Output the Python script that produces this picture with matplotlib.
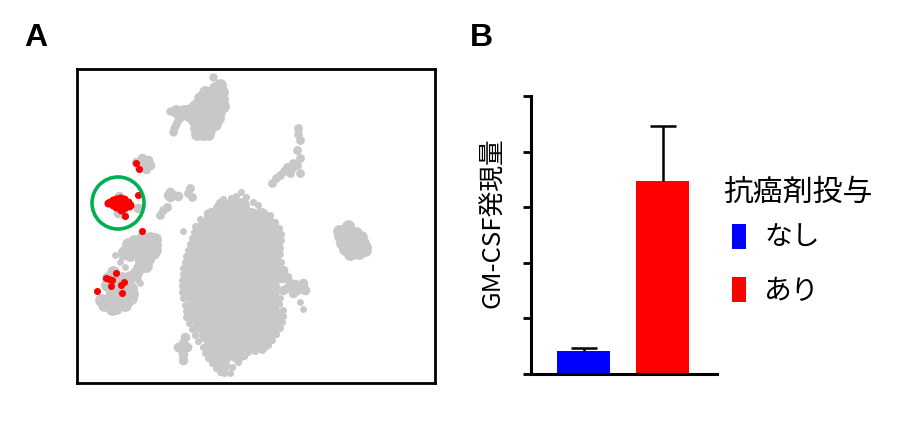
import matplotlib
matplotlib.use('Agg')
import matplotlib.pyplot as plt
from matplotlib.patches import Circle, Rectangle

plt.rcParams['font.family'] = ['Noto Sans CJK JP', 'DejaVu Sans']

GRAY = '#c8c8c8'

# panel A: point map in pixel units
main_row_y = [205, 215, 225, 235, 245, 255, 265, 275, 285, 295, 305, 315, 325, 335, 345, 355, 365]
main_row_x = [
    [222, 232, 242],
    [211, 221, 231, 241, 251, 261],
    [205, 215, 225, 235, 245, 255, 265, 271],
    [201, 211, 221, 231, 241, 251, 261, 271, 274],
    [197, 207, 217, 227, 237, 247, 257, 267, 275],
    [194, 204, 214, 224, 234, 244, 254, 264, 274],
    [192, 202, 212, 222, 232, 242, 252, 262, 272],
    [190, 200, 210, 220, 230, 240, 250, 260, 270],
    [190, 200, 210, 220, 230, 240, 250, 260, 270],
    [191, 201, 211, 221, 231, 241, 251, 261, 271],
    [192, 202, 212, 222, 232, 242, 252, 262, 272],
    [195, 205, 215, 225, 235, 245, 255, 265, 275],
    [200, 210, 220, 230, 240, 250, 260, 270, 275],
    [206, 216, 226, 236, 246, 256, 268],
    [211, 221, 231, 241, 251, 261],
    [215, 225, 237],
    [222],
]
edge_x = [241, 223, 231, 236, 246, 253, 258, 207, 216, 200, 196, 194, 192, 190, 188, 186, 185,
          183, 183, 182, 182, 182, 183, 185, 186, 186, 189, 192, 195, 198, 203, 205, 208, 212,
          216, 220, 224, 230, 262, 270, 275, 279, 281, 281, 280, 280, 281, 279, 277, 277, 276,
          276, 277, 279, 283, 283, 282, 280, 276, 272, 268, 262, 255, 248, 244, 238, 232]
edge_y = [192, 199, 198, 196, 197, 202, 205, 213, 207, 219, 226, 232, 238, 244, 250, 256, 262,
          268, 274, 280, 286, 292, 298, 305, 311, 317, 323, 329, 335, 341, 347, 353, 358, 363,
          368, 372, 373, 373, 212, 215, 222, 228, 234, 240, 248, 254, 262, 268, 274, 280, 286,
          292, 298, 304, 310, 316, 322, 328, 334, 340, 345, 350, 351, 352, 356, 362, 367]

top_x = [220, 215, 222, 205, 213, 222, 200, 208, 216, 223, 195, 203, 211, 219, 190, 196, 204,
         212, 184, 176, 180, 197, 190, 194, 200, 207, 213, 196, 203, 210, 197, 203, 208, 218, 215]
top_y = [85, 88, 92, 92, 95, 99, 98, 102, 104, 106, 106, 108, 110, 112, 110, 112, 115,
         116, 111, 111, 115, 105, 116, 120, 122, 122, 122, 128, 128, 128, 134, 134, 134, 118, 124]
top_tail_x = [170, 174, 178, 176, 174, 173, 213]
top_tail_y = [111, 110, 120, 124, 128, 132, 77]
right_x = [348, 343, 350, 356, 340, 347, 354, 361, 342, 349, 356, 363, 345, 352, 359, 365, 352,
           359, 350, 339, 365]
right_y = [226, 231, 232, 233, 236, 238, 238, 237, 243, 244, 244, 243, 249, 250, 250, 250, 253,
           253, 254, 231, 247]
lower_x = [128, 134, 142, 150, 155, 155, 155, 152, 144, 136, 128, 124, 130, 138, 146, 153, 148,
           141, 146, 139, 136, 130, 113, 108, 116, 122, 107, 113, 120, 128, 131, 112, 120, 128,
           132, 101, 107, 114, 121, 128, 131, 104, 111, 118, 125, 112, 116]
lower_y = [244, 241, 238, 238, 239, 245, 250, 244, 245, 248, 250, 252, 255, 255, 252, 253, 259,
           262, 266, 268, 273, 277, 272, 278, 279, 278, 285, 286, 286, 285, 288, 293, 293, 293,
           294, 300, 300, 300, 300, 300, 298, 305, 306, 306, 305, 309, 308]
side_x = [283, 287, 288, 303, 297, 293, 282, 283, 305, 295, 290, 136, 142, 148, 150, 144, 139,
          146, 119, 118, 123, 138, 170, 173, 168, 178, 170, 183, 178, 185, 183, 182, 187, 183]
side_y = [270, 277, 287, 283, 290, 293, 278, 290, 290, 284, 283, 162, 158, 160, 165, 165, 167,
          169, 196, 213, 214, 208, 192, 195, 195, 196, 197, 343, 347, 337, 360, 350, 347, 354]
streak_x = [298, 298, 300, 297, 300, 293, 297, 287, 290, 280, 300, 276, 272, 284, 292, 190, 188,
            192, 167, 163, 160]
streak_y = [128, 134, 140, 150, 158, 163, 165, 167, 173, 175, 173, 178, 183, 171, 168, 188, 193,
            197, 207, 210, 215]
dots_x = [300, 303, 115, 122, 120, 125, 138, 140, 183, 197, 195, 280]
dots_y = [302, 309, 255, 257, 262, 267, 280, 283, 231, 228, 226, 298]

red_x = [136, 139, 125, 142, 138, 116, 106, 112, 111, 124, 121, 122, 97, 109]
red_y = [163, 169, 216, 231, 195, 273, 278, 280, 286, 282, 285, 293, 291, 279]
red_core_x = [110, 113, 116, 120, 124, 128, 130, 113, 117, 121, 125, 129, 116, 120, 124, 121,
              118, 122, 108]
red_core_y = [202, 200, 199, 198, 199, 202, 205, 205, 204, 203, 204, 206, 207, 208, 208, 210,
              201, 201, 203]

# panel B: bars
categories = ['なし', 'あり']
bar_values = [0.41, 3.47]
bar_tops = [0.47, 4.46]
bar_colors = ['#0000ff', '#ff0000']
y_ticks = [0, 1, 2, 3, 4, 5]
legend_title = '抗癌剤投与'
y_label = 'GM-CSF発現量'

fig = plt.figure(figsize=(9, 4.4), dpi=100)
W, H = 900, 440


def place(left, top, right, bottom):
    return [left / W, 1 - bottom / H, (right - left) / W, (bottom - top) / H]


# Panel A
ax1 = fig.add_axes(place(77, 69, 435, 383))
ax1.set_xlim(77, 435)
ax1.set_ylim(383, 69)
for y, xs in zip(main_row_y, main_row_x):
    ax1.scatter(xs, [y] * len(xs), s=117, color=GRAY, linewidths=0)
ax1.scatter(edge_x, edge_y, s=26, color=GRAY, linewidths=0)
for xs, ys in [(top_x, top_y), (right_x, right_y), (lower_x, lower_y)]:
    ax1.scatter(xs, ys, s=85, color=GRAY, linewidths=0)
ax1.scatter(top_tail_x, top_tail_y, s=36, color=GRAY, linewidths=0)
ax1.scatter(side_x, side_y, s=48, color=GRAY, linewidths=0)
ax1.scatter(streak_x, streak_y, s=40, color=GRAY, linewidths=0)
ax1.scatter(dots_x, dots_y, s=24, color=GRAY, linewidths=0)
ax1.scatter(red_x, red_y, s=26, color='#ff0000', linewidths=0, zorder=3)
ax1.scatter(red_core_x, red_core_y, s=34, color='#ff0000', linewidths=0, zorder=3)
ax1.add_patch(Circle((118, 203), 26, fill=False, edgecolor='#00b050', linewidth=2.6, zorder=4))
ax1.set_xticks([])
ax1.set_yticks([])
for spine in ax1.spines.values():
    spine.set_linewidth(2.0)

# Panel B
ax2 = fig.add_axes(place(531, 96, 717, 374))
positions = range(len(categories))
ax2.bar(positions, bar_values, width=0.67, color=bar_colors)
for pos, val, top in zip(positions, bar_values, bar_tops):
    ax2.vlines(pos, val, top, color='black', linewidth=1.8, zorder=3)
    ax2.plot([pos], [top], marker='_', markersize=19, markeredgewidth=1.8, color='black', zorder=3)
ax2.set_xlim(-0.665, 1.69)
ax2.set_ylim(y_ticks[0], y_ticks[-1])
ax2.set_yticks(y_ticks)
ax2.set_yticklabels([])
ax2.set_xticks([])
ax2.tick_params(axis='y', length=6, width=2.0)
ax2.spines['top'].set_visible(False)
ax2.spines['right'].set_visible(False)
ax2.spines['left'].set_linewidth(2.2)
ax2.spines['bottom'].set_linewidth(2.2)

# Text and legend, placed in picture pixels
over = fig.add_axes([0, 0, 1, 1], facecolor='none')
over.set_xlim(0, W)
over.set_ylim(H, 0)
over.axis('off')
over.text(24, 38, 'A', fontsize=23, fontweight='bold', family=['Liberation Sans'], va='center')
over.text(470, 38, 'B', fontsize=23, fontweight='bold', family=['Liberation Sans'], va='center')
over.text(493, 223, y_label, fontsize=18.5, rotation=90, ha='center', va='center')
over.text(723, 192, legend_title, fontsize=21.5, va='center')
for name, color, box_top, text_y in zip(categories, bar_colors, [224, 277], [238, 291]):
    over.add_patch(Rectangle((732, box_top), 14, 25, color=color, linewidth=0))
    over.text(764, text_y, name, fontsize=20, va='center')

fig.savefig('out.png', dpi=100)
